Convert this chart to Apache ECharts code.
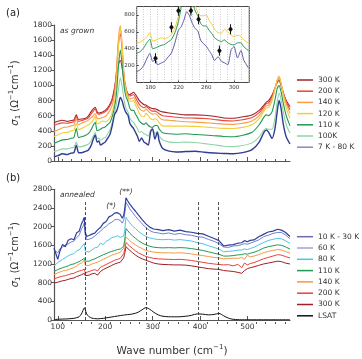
<!DOCTYPE html>
<html><head><meta charset="utf-8">
<script src="https://cdn.jsdelivr.net/npm/echarts@6/dist/echarts.min.js"></script>
<style>html,body{margin:0;padding:0;background:#fff}#c{width:362px;height:359px}</style>
</head><body><div id="c"></div>
<script>
// ---------- panel (a): as grown ----------
const topX = [92,100,110,120,128,134,139,144,150,160,
  165,170,175,179,183,187,190,195,200,205,
  210,215,220,224,228,232,236,240,244,248,
  252,256,260,264,268,272,277,282,286,291,
  296,300,305,310,314,321,335,350,370,390,
  410,430,450,470,490,510,525,535,540,545,
  552,558,563,567,571,576,582,590];
const a300 = [505,525,540,525,535,545,610,550,555,570,
  600,650,690,710,650,635,640,650,670,700,
  750,830,980,1150,1280,1330,1230,1060,950,890,
  880,895,910,880,840,800,770,745,740,720,
  700,695,690,680,665,650,635,625,610,610,
  605,592,570,565,585,610,670,740,780,800,
  870,960,1040,1065,1000,900,800,720];
const a200 = [470,490,505,500,510,520,590,525,535,555,
  575,620,660,690,630,620,625,635,650,680,
  730,800,950,1200,1550,1690,1450,1120,960,880,
  860,870,880,840,790,750,720,705,720,700,
  670,660,660,645,625,600,590,580,570,568,
  562,550,535,530,545,575,640,720,760,770,
  850,960,1060,1100,1020,900,780,680];
const a140 = [390,410,440,450,465,475,560,480,500,525,
  545,570,600,625,565,560,565,580,590,620,
  670,740,900,1200,1620,1790,1520,1100,950,860,
  820,830,840,790,740,700,670,660,690,660,
  630,620,625,610,580,545,540,530,520,515,
  508,498,488,485,500,530,600,690,730,740,
  820,950,1070,1120,1040,890,760,630];
const a120 = [325,345,375,380,400,410,500,415,430,465,
  480,505,545,590,490,500,512,530,520,535,
  570,650,790,1050,1500,1760,1500,1050,920,830,
  790,790,800,740,690,630,590,585,630,600,
  560,545,560,545,505,465,462,462,462,458,
  450,440,432,430,445,480,560,660,700,710,
  790,940,1070,1110,1030,860,700,565];
const a110 = [235,255,280,285,300,310,430,310,320,345,
  365,410,475,512,400,410,420,440,450,480,
  510,590,720,900,1250,1470,1250,980,850,790,
  700,670,670,620,580,530,500,485,505,470,
  450,445,470,470,425,375,360,355,360,350,
  345,335,325,320,340,380,480,580,610,600,
  650,800,960,1000,920,760,600,465];
const a100 = [125,140,160,160,175,185,250,185,190,210,
  225,265,330,380,300,305,275,295,310,360,
  410,510,650,760,950,1100,980,800,700,650,
  570,530,510,470,430,380,390,360,350,330,
  410,430,360,390,330,280,250,245,250,245,
  230,215,195,190,205,240,320,410,430,420,
  420,560,780,900,820,640,480,366];
const a7 = [55,70,95,85,105,110,210,110,110,130,
  150,200,290,345,250,265,210,230,250,300,
  350,470,620,660,740,840,790,700,640,610,
  500,460,430,380,330,260,305,250,235,210,
  390,425,290,380,265,170,130,120,125,130,
  115,105,100,95,110,150,250,380,410,380,
  300,420,650,800,700,480,320,225];
// inset markers (diamonds with error bars)
const markX = [187,210,220,238,249,279,295];
const markY = [287,654,851,851,749,377,630];
const markErr = [60,60,60,60,60,60,60];

// ---------- panel (b): annealed ----------
const botX = [92,96,100,104,110,116,122,128,134,140,
  145,150,153,156,158,161,166,172,178,184,
  190,196,202,208,214,220,226,232,236,239,
  241,244,247,252,258,264,270,278,286,294,
  302,312,322,334,346,358,370,382,394,406,
  418,430,440,450,460,470,480,488,494,500,
  506,514,524,534,544,554,564,572,580,590];
const b10 = [1540,1420,1300,1460,1620,1570,1710,1740,1720,1870,
  1900,2060,2120,2200,1880,1790,1810,1840,1860,1930,
  1980,2070,2110,2210,2240,2290,2300,2260,2180,2240,
  2360,2620,2560,2480,2400,2330,2250,2150,2060,1990,
  1950,1935,1915,1935,1905,1925,1895,1880,1855,1845,
  1795,1745,1700,1585,1605,1615,1645,1655,1700,1675,
  1705,1715,1785,1835,1885,1905,1945,1925,1880,1790];
const b60 = [1500,1470,1440,1520,1560,1610,1630,1670,1690,1770,
  1810,1950,2000,2080,1820,1720,1730,1755,1795,1855,
  1900,1965,2005,2065,2095,2145,2155,2135,2075,2135,
  2250,2520,2470,2380,2300,2220,2150,2060,1980,1915,
  1880,1865,1845,1865,1835,1855,1825,1815,1785,1775,
  1725,1685,1635,1565,1555,1585,1595,1615,1635,1625,
  1645,1675,1715,1785,1815,1855,1875,1875,1825,1740];
const b80 = [1160,1200,1230,1265,1300,1335,1375,1405,1420,1485,
  1500,1560,1600,1640,1480,1440,1455,1500,1545,1560,
  1645,1615,1685,1720,1765,1780,1805,1770,1760,1800,
  1900,2200,2150,2080,2010,1960,1900,1840,1790,1760,
  1740,1725,1720,1728,1712,1722,1708,1692,1660,1632,
  1590,1552,1520,1460,1472,1478,1497,1500,1522,1508,
  1532,1558,1612,1658,1702,1728,1752,1738,1702,1640];
const b110 = [1040,1060,1080,1090,1120,1140,1160,1190,1200,1230,
  1250,1280,1300,1320,1260,1240,1260,1290,1310,1340,
  1370,1400,1420,1450,1470,1490,1510,1520,1530,1580,
  1700,1960,1920,1860,1800,1750,1700,1650,1610,1580,
  1560,1550,1545,1550,1545,1550,1545,1530,1510,1490,
  1460,1430,1410,1370,1370,1380,1395,1400,1420,1410,
  1430,1450,1490,1540,1570,1590,1610,1600,1570,1520];
const b140 = [970,990,1010,1020,1050,1060,1080,1100,1120,1160,
  1200,1220,1260,1280,1170,1150,1170,1200,1220,1240,
  1270,1300,1330,1360,1390,1410,1430,1450,1470,1540,
  1620,1780,1750,1700,1650,1610,1570,1530,1490,1470,
  1455,1445,1440,1440,1435,1440,1430,1415,1395,1380,
  1360,1340,1330,1310,1315,1325,1320,1340,1300,1390,
  1350,1370,1400,1440,1470,1490,1510,1500,1470,1430];
const b200 = [880,890,910,920,940,950,970,990,1000,1030,
  1050,1060,1080,1090,1010,1000,1040,1060,1080,1050,
  1130,1160,1190,1220,1250,1280,1300,1320,1340,1420,
  1500,1660,1630,1580,1530,1480,1440,1400,1360,1340,
  1320,1310,1305,1300,1295,1300,1290,1275,1255,1235,
  1215,1200,1190,1180,1185,1160,1190,1120,1220,1180,
  1210,1230,1270,1310,1340,1370,1400,1390,1360,1330];
const b300 = [790,800,810,820,840,850,870,890,900,930,
  950,970,990,1000,950,940,960,990,1000,960,
  1040,1080,1110,1140,1170,1200,1220,1240,1260,1330,
  1410,1570,1540,1490,1440,1390,1350,1310,1280,1250,
  1220,1200,1190,1185,1180,1180,1175,1160,1140,1120,
  1100,1090,1085,1060,1050,1040,1020,1000,1060,1100,
  1120,1140,1170,1200,1220,1240,1260,1250,1220,1200];
const bLSAT = [10,12,15,18,20,22,25,30,35,50,
  70,130,200,260,220,130,70,40,30,25,
  30,35,45,55,65,75,85,95,100,105,
  108,112,115,120,130,145,170,220,265,230,
  170,110,80,70,68,70,80,100,130,125,
  110,120,140,90,40,15,8,5,5,5,
  5,5,5,5,5,5,5,5,5,5];
const dashX = [157,286,397,438];
const dashTop = [2530,1980,2530,2530];

// ticks
const majorX = [100,200,300,400,500];
const minorX = [120,140,160,180,220,240,260,280,320,340,360,380,420,440,460,480,520,540,560,580];
const insetXTicks = [180,220,260,300];
const insetYTicks = [200,400,600,800];
const INSET_MIN = 160, INSET_MAX = 322;

const FONT = 'DejaVu Sans';
const AX = '#555';

function mk(name, xs, ys, color, legendColor, xi, yi, w, smooth, z, range) {
  let pts = xs.map((x,i)=>[x, ys[i]]);
  if (range) pts = pts.filter(p => p[0] >= range[0] && p[0] <= range[1]);
  return {type:'line', name, xAxisIndex:xi, yAxisIndex:yi,
    data: pts, showSymbol:false, symbol:'none',
    smooth: smooth, lineStyle:{color, width:w}, itemStyle:{color: legendColor||color},
    z: z||2, silent:true, clip:true, animation:false};
}
const inR = [155, 330];

const series = [
  mk('a:300 K', topX, a300, '#a3232a', null, 0,0,1.1,0.25),
  mk('a:200 K', topX, a200, '#e8453c', null, 0,0,1.1,0.25),
  mk('a:140 K', topX, a140, '#f5a04c', null, 0,0,1.1,0.25),
  mk('a:120 K', topX, a120, '#f2cf3a', null, 0,0,1.1,0.25),
  mk('a:110 K', topX, a110, '#1e9a55', null, 0,0,1.1,0.25),
  mk('a:100K', topX, a100, '#8ed5a8', null, 0,0,1.1,0.25),
  mk('a:7 K - 80 K', topX, a7, '#2f3d92', '#8888c0', 0,0,1.4,0.25),
  // inset
  mk('i:120', topX, a120, '#f2cf3a', null, 4,4,1,0.2,5,inR),
  mk('i:110', topX, a110, '#1e9a55', null, 4,4,1,0.2,5,inR),
  mk('i:7', topX, a7, '#5c5ca8', null, 4,4,1,0.2,5,inR),
  {type:'custom', name:'i:marks', xAxisIndex:4, yAxisIndex:4, clip:true, z:6, silent:true,
   data: markX.map((x,i)=>[x, markY[i], markErr[i]]), encode:{x:0,y:1},
   renderItem:(params, api)=>{
     const x=api.value(0), y=api.value(1), e=api.value(2);
     const c=api.coord([x,y]), t=api.coord([x,y+e]), b=api.coord([x,y-e]);
     return {type:'group', children:[
       {type:'line', shape:{x1:c[0],y1:t[1],x2:c[0],y2:b[1]}, style:{stroke:'#111', lineWidth:1}},
       {type:'polygon', shape:{points:[[c[0],c[1]-3],[c[0]+2.3,c[1]],[c[0],c[1]+3],[c[0]-2.3,c[1]]]}, style:{fill:'#111'}}
     ]};
   }},
  // bottom
  mk('b:300 K', botX, b300, '#9e1f24', null, 2,2,1,false),
  mk('b:200 K', botX, b200, '#e8413c', null, 2,2,1,false),
  mk('b:140 K', botX, b140, '#f39a45', null, 2,2,1,false),
  mk('b:110 K', botX, b110, '#1f9a55', null, 2,2,1,false),
  mk('b:80 K', botX, b80, '#4fc3e6', null, 2,2,1,false),
  mk('b:60 K', botX, b60, '#6f7fd0', '#a2a2d4', 2,2,1,false),
  mk('b:10 K - 30 K', botX, b10, '#2f3f99', '#6a6ab0', 2,2,1.2,false),
  Object.assign(mk('b:LSAT', botX, bLSAT, '#111', null, 2,2,1,0.3), {
    markLine:{silent:true, symbol:['none','none'], label:{show:false}, animation:false,
      lineStyle:{type:[3,2], color:'#222', width:0.8},
      data: dashX.map((x,i)=>[{coord:[x,0]},{coord:[x,dashTop[i]]}])}
  })
];

const yName = '{g|σ}{s|1} (Ω{p|−1}cm{p|−1})';
const nameStyle = {fontSize:10, color:'#333', fontFamily:FONT, lineHeight:14,
  rich:{g:{fontSize:10, fontStyle:'italic', fontFamily:FONT, color:'#333'},
        s:{fontSize:7, verticalAlign:'bottom', lineHeight:8, fontFamily:FONT, color:'#333'},
        p:{fontSize:7, verticalAlign:'top', lineHeight:8, fontFamily:FONT, color:'#333'}}};
const plain = v => String(v);
const lbl = {fontSize:7.5, color:'#333', fontFamily:FONT, formatter:plain};

function mainX(grid, labels) {
  return {gridIndex:grid, type:'value', min:92, max:590,
    axisLine:{show:true, lineStyle:{color:AX, width:1.2}},
    axisTick:{show:true, inside:true, length:4, customValues:majorX, lineStyle:{color:AX}},
    axisLabel: labels ? Object.assign({show:true, customValues:majorX, margin:3}, lbl) : {show:false},
    splitLine:{show:false}};
}
function minorXAxis(grid) {
  return {gridIndex:grid, type:'value', min:92, max:590, axisLine:{show:false},
    axisTick:{show:true, inside:true, length:2, customValues:minorX, lineStyle:{color:AX}},
    axisLabel:{show:false}, splitLine:{show:false}};
}
function mainY(grid, max, interval) {
  return {gridIndex:grid, type:'value', min:0, max, interval,
    axisLine:{show:true, lineStyle:{color:AX, width:1.2}},
    axisTick:{show:true, length:3, lineStyle:{color:AX}},
    axisLabel:Object.assign({margin:2}, lbl), splitLine:{show:false},
    name:yName, nameLocation:'middle', nameRotate:90, nameGap:31, nameTextStyle:nameStyle};
}

const option = {
  animation:false,
  textStyle:{fontFamily:FONT},
  grid:[
    {left:48.3, top:25, width:241.7, height:136},
    {left:48.3, top:25, width:241.7, height:136},
    {left:48.3, top:189.3, width:241.7, height:134.7},
    {left:48.3, top:189.3, width:241.7, height:134.7},
    {left:136.7, top:6.5, width:112.6, height:76, show:true, borderColor:'#444', borderWidth:1, backgroundColor:'#fff', z:3},
    {left:136.7, top:6.5, width:112.6, height:76}
  ],
  xAxis:[
    mainX(0,false), minorXAxis(1),
    Object.assign(mainX(2,true), {name:'Wave number (cm{p|−1})', nameLocation:'middle', nameGap:24,
      nameTextStyle:{fontSize:10.5, color:'#333', fontFamily:FONT, lineHeight:14,
        rich:{p:{fontSize:7, verticalAlign:'top', lineHeight:8, fontFamily:FONT, color:'#333'}}}}),
    minorXAxis(3),
    {gridIndex:4, type:'value', min:INSET_MIN, max:INSET_MAX, axisLine:{show:false},
     axisTick:{show:true, inside:true, length:2, customValues:insetXTicks, lineStyle:{color:'#444'}},
     axisLabel:{show:true, customValues:insetXTicks, fontSize:5.5, color:'#333', margin:2, fontFamily:FONT, formatter:plain},
     splitLine:{show:false}, z:4},
    {gridIndex:5, type:'value', min:INSET_MIN, max:INSET_MAX, interval:10, axisLine:{show:false}, axisTick:{show:false},
     axisLabel:{show:false}, splitLine:{show:true, lineStyle:{color:'#bbb', type:[1,1.5], width:0.8}}, z:4}
  ],
  yAxis:[
    mainY(0,1800,200), {gridIndex:1, show:false, min:0, max:1800},
    mainY(2,2800,400), {gridIndex:3, show:false, min:0, max:2800},
    {gridIndex:4, type:'value', min:0, max:900, axisLine:{show:false},
     axisTick:{show:true, inside:true, length:2, customValues:insetYTicks, lineStyle:{color:'#444'}},
     axisLabel:{show:true, customValues:insetYTicks, fontSize:5.5, color:'#333', margin:2, fontFamily:FONT, formatter:plain},
     splitLine:{show:false}, z:4},
    {gridIndex:5, show:false, min:0, max:900}
  ],
  legend:[
    {data:['a:300 K','a:200 K','a:140 K','a:120 K','a:110 K','a:100K','a:7 K - 80 K'],
     orient:'vertical', left:297, top:75.5, itemWidth:16, itemHeight:1.5, itemGap:2.2, icon:'rect',
     padding:0, selectedMode:false, formatter:n=>n.slice(2),
     textStyle:{fontSize:7.5, color:'#333', fontFamily:FONT, lineHeight:9}},
    {data:['b:10 K - 30 K','b:60 K','b:80 K','b:110 K','b:140 K','b:200 K','b:300 K','b:LSAT'],
     orient:'vertical', left:297, top:232.2, itemWidth:16, itemHeight:1.5, itemGap:2.3, icon:'rect',
     padding:0, selectedMode:false, formatter:n=>n.slice(2),
     textStyle:{fontSize:7.5, color:'#333', fontFamily:FONT, lineHeight:9}}
  ],
  graphic:[
    {type:'text', x:6, y:13, style:{text:'(a)', fontSize:10, fontFamily:FONT, fill:'#222', verticalAlign:'middle'}},
    {type:'text', x:6, y:178, style:{text:'(b)', fontSize:10, fontFamily:FONT, fill:'#222', verticalAlign:'middle'}},
    {type:'text', x:60, y:31.5, style:{text:'as grown', fontSize:7.5, fontStyle:'italic', fontFamily:FONT, fill:'#333', verticalAlign:'middle'}},
    {type:'text', x:60, y:195, style:{text:'annealed', fontSize:7.5, fontStyle:'italic', fontFamily:FONT, fill:'#333', verticalAlign:'middle'}},
    {type:'text', x:111, y:206, style:{text:'(*)', fontSize:7.5, fontStyle:'italic', fontFamily:FONT, fill:'#333', align:'center', verticalAlign:'middle'}},
    {type:'text', x:126, y:192, style:{text:'(**)', fontSize:7.5, fontStyle:'italic', fontFamily:FONT, fill:'#333', align:'center', verticalAlign:'middle'}}
  ],
  series
};
const chart = echarts.init(document.getElementById('c'), null, {renderer:'canvas'});
chart.setOption(option);
</script></body></html>
